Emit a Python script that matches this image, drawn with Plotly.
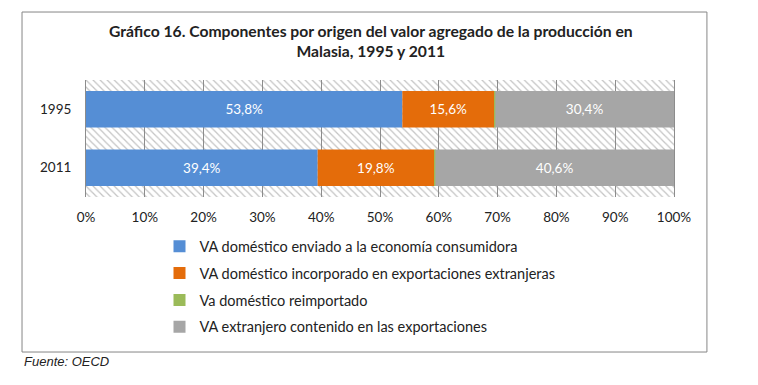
import plotly.graph_objects as go
import numpy as np

years = ["1995", "2011"]
series_names = [
    "VA doméstico enviado a la economía consumidora",
    "VA doméstico incorporado en exportaciones extranjeras",
    "Va doméstico reimportado",
    "VA extranjero contenido en las exportaciones",
]
va_dom_consumidora = [53.8, 39.4]
va_dom_export_ext = [15.6, 19.8]
va_dom_reimportado = [0.2, 0.2]
va_extranjero = [30.4, 40.6]
colors = ["#558ED5", "#E46C0A", "#9BBB59", "#A6A6A6"]
show_labels = [True, True, False, True]
x_ticks = list(range(0, 101, 10))

series = [va_dom_consumidora, va_dom_export_ext, va_dom_reimportado, va_extranjero]

FONT = "Lato"
fig = go.Figure()

# hatched plot-area background
fig.add_trace(go.Bar(
    y=years, x=[100, 100], base=[0, 0], orientation="h", width=1,
    marker=dict(color="rgba(0,0,0,0)", line=dict(width=0),
                pattern=dict(shape="\\", fgcolor="#8a8a8a", bgcolor="rgba(0,0,0,0)",
                             size=5, solidity=0.25)),
    showlegend=False, hoverinfo="skip",
))

base = np.zeros(len(years))
for i, (name, vals) in enumerate(zip(series_names, series)):
    vals = np.array(vals)
    fig.add_trace(go.Bar(
        y=years, x=vals, base=base, orientation="h", width=0.62,
        name=name, legendgroup=f"g{i}",
        marker=dict(color=colors[i], line=dict(width=0)),
        text=[f"{v:.1f}%".replace(".", ",") for v in vals] if show_labels[i] else None,
        textposition="inside" if show_labels[i] else "none",
        insidetextanchor="middle", textangle=0,
        textfont=dict(color="white", size=13.5, family=FONT),
        constraintext="none",
    ))
    base = base + vals

fig.update_layout(
    width=750, height=377,
    margin=dict(l=78, r=84, t=72, b=188),
    paper_bgcolor="white", plot_bgcolor="white",
    barmode="overlay",
    showlegend=True,
    legend=dict(x=0.125, y=-0.285, xanchor="left", yanchor="top",
                traceorder="grouped", tracegroupgap=5,
                font=dict(family=FONT, size=14.5, color="#222"),
                itemwidth=30, bgcolor="rgba(0,0,0,0)"),
    font=dict(family=FONT, size=13, color="#222"),
)
fig.update_xaxes(range=[0, 100], tickvals=x_ticks, ticktext=[f"{t}%" for t in x_ticks],
                 showgrid=True, gridcolor="#8c8c8c", gridwidth=1, zeroline=False,
                 showline=False, ticks="", ticklabelstandoff=10,
                 tickfont=dict(size=13.5, family=FONT, color="#222"),
                 fixedrange=True)
fig.update_yaxes(categoryorder="array", categoryarray=years, autorange="reversed",
                 showgrid=False, showline=True, linecolor="#8c8c8c", mirror=True,
                 ticks="", ticklabelstandoff=11, tickfont=dict(size=13.5, family=FONT, color="#222"))

# outer frame
fig.add_shape(type="rect", xref="paper", yref="paper",
              x0=-0.1088, x1=1.056, y0=-1.325, y1=1.581,
              line=dict(color="#868686", width=1), layer="below")

fig.add_annotation(xref="paper", yref="paper", x=0.485, y=1.581 - 0.065, yanchor="top",
                   text="<b>Gráfico 16. Componentes por origen del valor agregado de la producción en<br>Malasia, 1995 y 2011</b>",
                   showarrow=False, align="center",
                   font=dict(family=FONT, size=15.7, color="#222"))
fig.add_annotation(xref="paper", yref="paper", x=-0.1088, y=-1.325, xanchor="left", yanchor="top",
                   text="<i>Fuente: OECD</i>", showarrow=False,
                   font=dict(family="Liberation Sans", size=13, color="#222"))

fig.write_html("out.html")
